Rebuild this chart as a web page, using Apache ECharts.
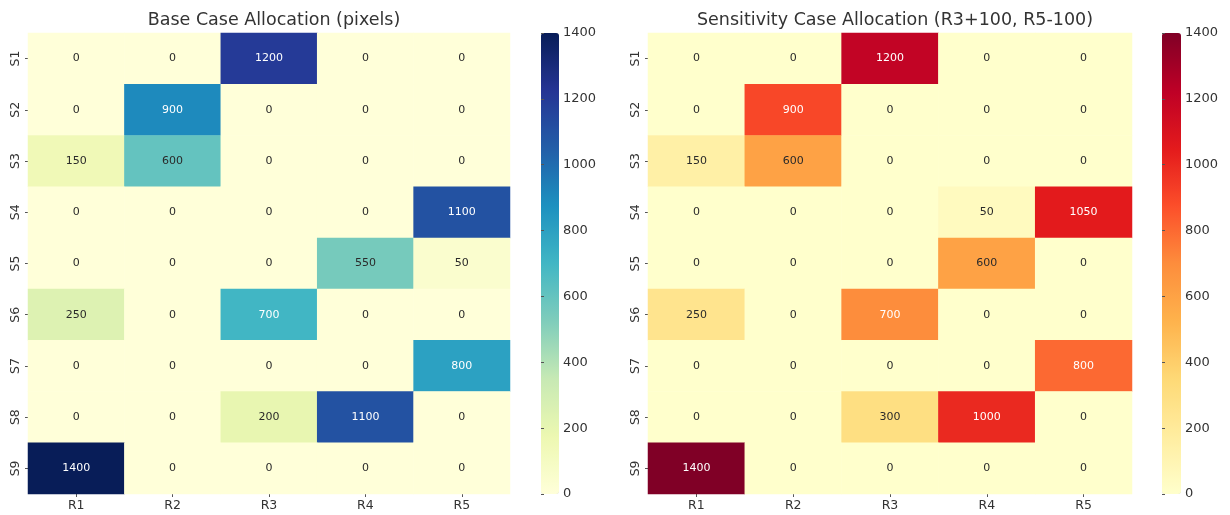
<!DOCTYPE html>
<html>
<head>
<meta charset="utf-8">
<script src="https://cdn.jsdelivr.net/npm/echarts@6/dist/echarts.min.js"></script>
<style>html,body{margin:0;padding:0;background:#fff;}#c{width:1230px;height:515px;}</style>
</head>
<body>
<div id="c"></div>
<script>
const rows = ['S1','S2','S3','S4','S5','S6','S7','S8','S9'];
const cols = ['R1','R2','R3','R4','R5'];
const baseTitle = 'Base Case Allocation (pixels)';
const sensTitle = 'Sensitivity Case Allocation (R3+100, R5-100)';
const baseValues = [
  [0,0,1200,0,0],
  [0,900,0,0,0],
  [150,600,0,0,0],
  [0,0,0,0,1100],
  [0,0,0,550,50],
  [250,0,700,0,0],
  [0,0,0,0,800],
  [0,0,200,1100,0],
  [1400,0,0,0,0]
];
const sensValues = [
  [0,0,1200,0,0],
  [0,900,0,0,0],
  [150,600,0,0,0],
  [0,0,0,50,1050],
  [0,0,0,600,0],
  [250,0,700,0,0],
  [0,0,0,0,800],
  [0,0,300,1000,0],
  [1400,0,0,0,0]
];
const colorbarMin = 0, colorbarMax = 1400, colorbarStep = 200;

const YlGnBu = ['#ffffd9','#edf8b1','#c7e9b4','#7fcdbb','#41b6c4','#1d91c0','#225ea8','#253494','#081d58'];
const YlOrRd = ['#ffffcc','#ffeda0','#fed976','#feb24c','#fd8d3c','#fc4e2a','#e31a1c','#bd0026','#800026'];

function toData(m){
  const out=[];
  m.forEach((r,yi)=>r.forEach((v,xi)=>{
    out.push({value:[xi,yi,v],label:{color: v>=700?'#ffffff':'#2a2a2a'}});
  }));
  return out;
}
const FONT='DejaVu Sans';
const txt='#333';
function hmGrid(left,width){return {left:left,top:33,width:width,height:461};}
function catX(gi){return {type:'category',data:cols,gridIndex:gi,
  axisLine:{show:false},axisTick:{show:true,alignWithLabel:true,length:3,lineStyle:{color:'#555'}},
  axisLabel:{color:txt,fontSize:12.5,fontFamily:FONT,margin:5},splitArea:{show:false},splitLine:{show:false}};}
function catY(gi){return {type:'category',data:rows,gridIndex:gi,inverse:true,
  axisLine:{show:false},axisTick:{show:true,alignWithLabel:true,length:3,lineStyle:{color:'#555'}},
  axisLabel:{color:txt,fontSize:12.5,fontFamily:FONT,rotate:90,margin:6},splitArea:{show:false},splitLine:{show:false}};}
function cbX(gi){return {type:'value',gridIndex:gi,show:false,min:0,max:1};}
function cbY(gi){return {type:'value',gridIndex:gi,min:colorbarMin,max:colorbarMax,interval:colorbarStep,position:'right',z:10,
  axisLine:{show:false},axisTick:{show:true,length:3,lineStyle:{color:'#555'}},
  axisLabel:{color:txt,fontSize:13,fontFamily:FONT,margin:4,formatter:v=>String(v)},splitLine:{show:false}};}

const chart=echarts.init(document.getElementById('c'));
chart.setOption({
  animation:false,
  backgroundColor:'#fff',
  title:[
    {text:baseTitle,left:269,top:6,textAlign:'center',textStyle:{fontFamily:FONT,fontSize:17.5,fontWeight:'normal',color:'#333'}},
    {text:sensTitle,left:890,top:6,textAlign:'center',textStyle:{fontFamily:FONT,fontSize:17.5,fontWeight:'normal',color:'#333'}}
  ],
  grid:[hmGrid(28,482),{left:541,top:33,width:18,height:461},hmGrid(648,484),{left:1162,top:33,width:19,height:461}],
  xAxis:[catX(0),cbX(1),catX(2),cbX(3)],
  yAxis:[catY(0),cbY(1),catY(2),cbY(3)],
  visualMap:[
    {type:'continuous',seriesIndex:0,min:colorbarMin,max:colorbarMax,calculable:false,left:541,top:33,itemWidth:18,itemHeight:461,padding:0,text:null,showLabel:false,inRange:{color:YlGnBu}},
    {type:'continuous',seriesIndex:1,min:colorbarMin,max:colorbarMax,calculable:false,left:1162,top:33,itemWidth:19,itemHeight:461,padding:0,text:null,showLabel:false,inRange:{color:YlOrRd}}
  ],
  series:[
    {type:'heatmap',xAxisIndex:0,yAxisIndex:0,data:toData(baseValues),
     label:{show:true,fontSize:11,fontFamily:FONT},emphasis:{disabled:true}},
    {type:'heatmap',xAxisIndex:2,yAxisIndex:2,data:toData(sensValues),
     label:{show:true,fontSize:11,fontFamily:FONT},emphasis:{disabled:true}}
  ]
});
</script>
</body>
</html>
